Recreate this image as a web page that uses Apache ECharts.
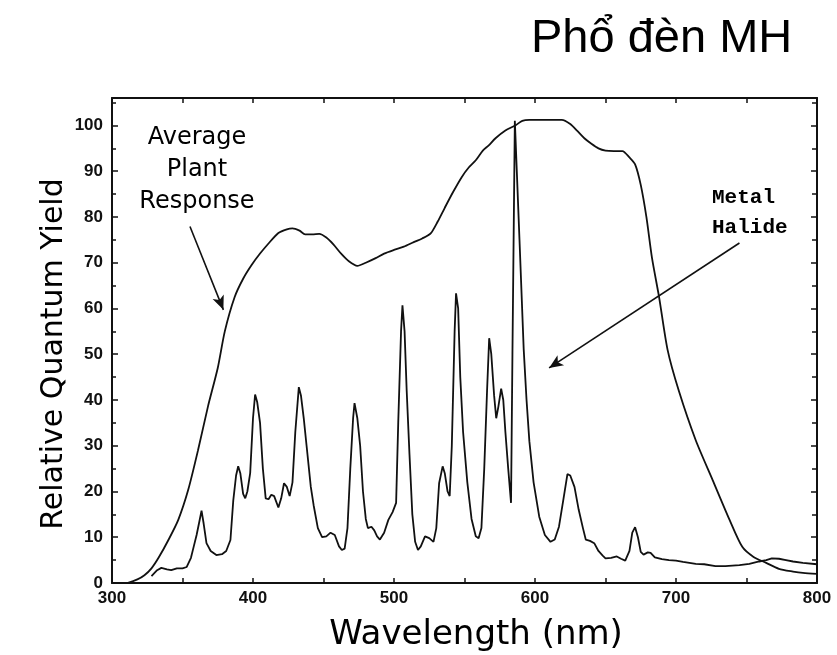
<!DOCTYPE html>
<html>
<head>
<meta charset="utf-8">
<script src="https://cdn.jsdelivr.net/npm/echarts@6/dist/echarts.min.js"></script>
<style>html,body{margin:0;padding:0;background:#fff}#chart{width:837px;height:655px}</style>
</head>
<body>
<div id="chart"></div>
<script>
// Average plant response: wavelength (nm) and relative quantum yield
const plantWavelength = [300,310,318,323,328,333,340,347,354,361,368,375,380,387,393,399,405,411,418,424,428,433,437,442,447,452,457,463,468,474,480,487,493,500,507,514,520,526,531,536,542,548,553,558,563,567,572,579,586,591,596,605,612,619,625,630,635,640,645,650,656,662,667,671,675,679,683,688,694,702,714,726,738,747,755,764,773,783,790,800];
const plantYield = [0,0,0.8,1.7,3.2,5.5,9.4,13.8,20.3,29,38.5,47,55,62.5,66.5,69.5,72,74.2,76.5,77.3,77.5,77,76.2,76.2,76.3,75.5,74,71.8,70.3,69.3,70,71,72,72.8,73.5,74.5,75.3,76.4,79,82,85.5,88.7,90.8,92.4,94.5,95.6,97.2,98.9,100,101,101.2,101.2,101.2,101.2,100.3,98.8,97.2,96,95,94.5,94.4,94.4,93,91.5,87,80,71,62.5,51,42,31.2,22.5,13.8,7.9,5.7,4.4,3.1,2.5,2.2,2];

// Metal halide lamp spectrum
const mhWavelength = [328,332,335,339,342,346,350,353,356,358,360,362,363.5,365,367,370,374,378,381,384,386,388,389.5,391,393,394.5,396,398,400,401.5,403,405,407,409,411,413,415,418,420,422,424,426,428,430,432.5,434,436,438,441,443,446,449,452,455,458,461,463,465,467,469,471,472,474,476,478,480,481.5,484,486,488,490,493,496,499,501.5,503,505,506,507.5,509,511,513,515,517,519,522,525,528,530,532,534.5,536,538,539.5,541,543,544,545.5,547,549,552,555,558,560,562,564,566,567.5,569,571,572.5,574,576,577.5,579,581,583,584,585.7,589,592,594,596,599,603,607,611,614,617,620,623,625,628,631,634,636,639,642,645,648,650,654,658,661,664,667,669,671,673,675,677,680,682,685,690,695,700,705,714,720,728,735,745,752,759,764,768,773,778,783,790,800];
const mhYield = [1.5,2.8,3.3,3.0,2.8,3.2,3.2,3.5,5.5,8,10.5,13.5,15.8,13,8.7,7,6.1,6.3,7,9.4,18,23.5,25.5,24,19.5,18.5,20,24,36,41.2,39.5,35,25,18.5,18.3,19.3,19,16.5,18.5,21.8,21,19,22,33,42.8,41,36,30,21,17,12,10,10.2,11,10.5,8,7.2,7.5,12,25,36,39.3,36,30,20,14,12,12.3,11.5,10.2,9.5,11,13.8,15.5,17.5,35,55,60.7,55,42,28,15,9,7.2,8,10.2,9.8,9,12,21.8,25.5,24,20,19,30,55,63.3,60,45,33,22,14,10.2,9.8,12,25,42,53.5,50,41,36,38.5,42.5,40,33,25,17.5,50,101,75,51,40,31,22,14.5,10.5,9,9.5,12.3,18,23.8,23.5,21,16,12,9.5,9.2,8.7,7,6,5.4,5.5,5.8,5.3,4.9,7,11,12.2,10,6.8,6.2,6.7,6.6,5.6,5.2,5.0,4.9,4.6,4.2,4.1,3.7,3.7,3.9,4.2,4.7,5.0,5.4,5.3,5.0,4.7,4.4,4.1];

const xTickLabels = ['300','400','500','600','700','800'];
const yTickLabels = ['0','10','20','30','40','50','60','70','80','90','100'];

// annotation arrows (data coordinates)
const plantArrow = [[355.3, 77.9], [379, 59.7]];
const mhArrow = [[745, 74.3], [610, 47]];

const zip = (a, b) => a.map((v, i) => [v, b[i]]);
const ink = '#111';
const tickFont = { fontFamily: 'Liberation Sans', fontWeight: 'bold', fontSize: 17, color: ink };

const chart = echarts.init(document.getElementById('chart'), null, { renderer: 'canvas' });
chart.setOption({
  animation: false,
  backgroundColor: '#fff',
  grid: { left: 112, right: 20, top: 98, bottom: 72, containLabel: false },
  xAxis: [
    { type: 'value', min: 300, max: 800, interval: 100, position: 'bottom',
      axisLine: { show: true, lineStyle: { color: ink, width: 2 } },
      axisTick: { show: true, inside: true, length: 5, lineStyle: { color: ink, width: 1.5 } },
      minorTick: { show: true, splitNumber: 2, length: 5, lineStyle: { color: ink, width: 1.5 } },
      splitLine: { show: false },
      axisLabel: Object.assign({ margin: 7, formatter: v => xTickLabels.includes(String(v)) ? String(v) : '' }, tickFont) },
    { type: 'value', min: 300, max: 800, interval: 100, position: 'top',
      axisLine: { show: true, onZero: false, lineStyle: { color: ink, width: 2 } },
      axisTick: { show: true, inside: true, length: 5, lineStyle: { color: ink, width: 1.5 } },
      minorTick: { show: true, splitNumber: 2, length: 5, lineStyle: { color: ink, width: 1.5 } },
      splitLine: { show: false }, axisLabel: { show: false } }
  ],
  yAxis: [
    { type: 'value', min: 0, max: 106, interval: 10, position: 'left',
      axisLine: { show: true, lineStyle: { color: ink, width: 2 } },
      axisTick: { show: true, inside: true, length: 6, lineStyle: { color: ink, width: 1.5 } },
      minorTick: { show: true, splitNumber: 2, length: 4, lineStyle: { color: ink, width: 1.5 } },
      splitLine: { show: false },
      axisLabel: Object.assign({ margin: 9, formatter: v => yTickLabels.includes(String(v)) ? String(v) : '' }, tickFont) },
    { type: 'value', min: 0, max: 106, interval: 10, position: 'right',
      axisLine: { show: true, onZero: false, lineStyle: { color: ink, width: 2 } },
      axisTick: { show: true, inside: true, length: 6, lineStyle: { color: ink, width: 1.5 } },
      minorTick: { show: true, splitNumber: 2, length: 5, lineStyle: { color: ink, width: 1.5 } },
      splitLine: { show: false }, axisLabel: { show: false } }
  ],
  series: [
    { name: 'Average Plant Response', type: 'line', data: zip(plantWavelength, plantYield),
      showSymbol: false, smooth: 0.25, lineStyle: { color: ink, width: 1.8 },
      markLine: { silent: true, symbol: ['none', 'arrow'], symbolSize: [9, 14], label: { show: false },
        lineStyle: { color: ink, width: 1.6, type: 'solid' },
        data: [[{ coord: plantArrow[0] }, { coord: plantArrow[1] }]] } },
    { name: 'Metal Halide', type: 'line', data: zip(mhWavelength, mhYield),
      showSymbol: false, smooth: false, lineStyle: { color: ink, width: 1.8 },
      markLine: { silent: true, symbol: ['none', 'arrow'], symbolSize: [9, 14], label: { show: false },
        lineStyle: { color: ink, width: 1.6, type: 'solid' },
        data: [[{ coord: mhArrow[0] }, { coord: mhArrow[1] }]] } }
  ],
  graphic: [
    { type: 'text', left: 531, top: 16, style: { text: 'Phổ đèn MH', font: '47px "Liberation Sans"', fill: '#000' } },
    { type: 'text', x: 54, y: 354, rotation: Math.PI / 2,
      style: { text: 'Relative Quantum Yield', font: '30px "DejaVu Sans"', fill: '#000', align: 'center', verticalAlign: 'middle' } },
    { type: 'text', x: 476, y: 635,
      style: { text: 'Wavelength (nm)', font: '34px "DejaVu Sans"', fill: '#000', align: 'center', verticalAlign: 'middle' } },
    { type: 'text', x: 197, y: 122,
      style: { text: 'Average\nPlant\nResponse', font: '24px "DejaVu Sans"', lineHeight: 32, fill: '#000', align: 'center', verticalAlign: 'top' } },
    { type: 'text', x: 712, y: 183,
      style: { text: 'Metal\nHalide', font: 'bold 21px "Liberation Mono"', lineHeight: 30, fill: '#000', align: 'left', verticalAlign: 'top' } }
  ]
});
</script>
</body>
</html>
